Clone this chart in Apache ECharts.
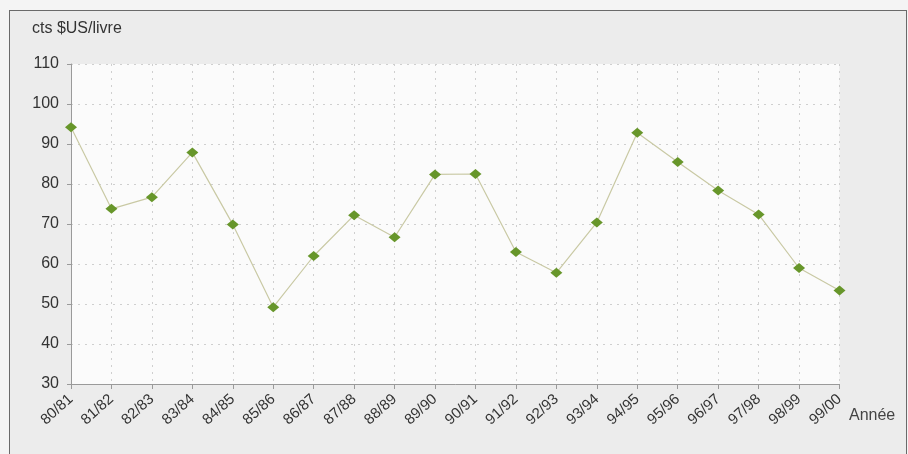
<!DOCTYPE html>
<html>
<head>
<meta charset="utf-8">
<script src="https://cdn.jsdelivr.net/npm/echarts@6/dist/echarts.min.js"></script>
<style>
  html, body { margin: 0; padding: 0; background: #f4f4f4; }
  .frame {
    position: absolute;
    left: 9px;
    top: 10px;
    width: 896px;
    height: 460px;
    border: 1px solid #6a6a6a;
    background: #ececec;
  }
  #chart {
    position: absolute;
    left: 0;
    top: 0;
    width: 908px;
    height: 454px;
  }
</style>
</head>
<body>
<div class="frame"></div>
<div id="chart"></div>
<script>
// campagnes
var years = ['80/81', '81/82', '82/83', '83/84', '84/85', '85/86', '86/87', '87/88', '88/89', '89/90',
  '90/91', '91/92', '92/93', '93/94', '94/95', '95/96', '96/97', '97/98', '98/99', '99/00']
// cts $US/livre
var prices = [94.2, 73.8, 76.7, 87.9, 69.9, 49.2, 62.0, 72.2, 66.7, 82.4,
  82.5, 63.0, 57.8, 70.4, 92.8, 85.5, 78.4, 72.4, 59.0, 53.4]
var yTicks = { min: 30, max: 110, step: 10 }

var chartDom = document.getElementById('chart')
var myChart = echarts.init(chartDom)
var option
var font = 'Liberation Sans, Arial, sans-serif'

option = {
  animation: false,
  backgroundColor: 'transparent',
  grid: {
    left: 71,
    right: 68.5,
    top: 64,
    bottom: 70,
    show: true,
    backgroundColor: '#fbfbfb',
    borderWidth: 0
  },
  graphic: [
    {
      type: 'text',
      left: 32,
      top: 21,
      style: { text: 'cts $US/livre', font: '16px ' + font, fill: '#333' }
    },
    {
      type: 'text',
      left: 849,
      top: 408,
      style: { text: 'Année', font: '16px ' + font, fill: '#444' }
    }
  ],
  xAxis: {
    type: 'category',
    data: years,
    boundaryGap: false,
    axisLine: { lineStyle: { color: '#9a9a9a', width: 1 } },
    axisTick: { show: true, length: 5, lineStyle: { color: '#9a9a9a' } },
    axisLabel: {
      rotate: 42,
      interval: 0,
      margin: 13,
      color: '#333',
      fontSize: 15,
      fontFamily: font
    },
    splitLine: {
      show: true,
      lineStyle: { color: '#cfcfcf', type: [2, 5], width: 1 }
    }
  },
  yAxis: {
    type: 'value',
    min: yTicks.min,
    max: yTicks.max,
    interval: yTicks.step,
    axisLine: { show: true, lineStyle: { color: '#9a9a9a', width: 1 } },
    axisTick: { show: true, length: 4, lineStyle: { color: '#9a9a9a' } },
    axisLabel: {
      margin: 12,
      color: '#333',
      fontSize: 16,
      fontFamily: font
    },
    splitLine: {
      show: true,
      lineStyle: { color: '#cfcfcf', type: [2, 5], width: 1 }
    }
  },
  series: [
    {
      type: 'line',
      data: prices,
      symbol: 'diamond',
      symbolSize: [12, 10],
      itemStyle: { color: '#67962a' },
      lineStyle: { color: '#c9c9a4', width: 1.2 }
    }
  ]
}

option && myChart.setOption(option)
</script>
</body>
</html>
